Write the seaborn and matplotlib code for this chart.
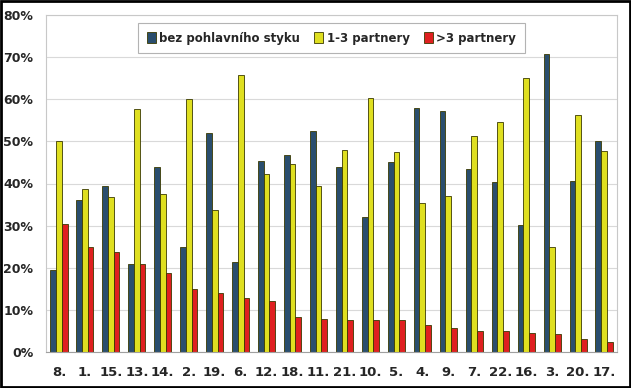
import numpy as np
import pandas as pd
import matplotlib
matplotlib.use("Agg")
import matplotlib.pyplot as plt
import seaborn as sns
from matplotlib.patches import Rectangle

# Data (values in %)
categories = ["8.", "1.", "15.", "13.", "14.", "2.", "19.", "6.", "12.", "18.", "11.",
              "21.", "10.", "5.", "4.", "9.", "7.", "22.", "16.", "3.", "20.", "17."]
bez_styku = [19.5, 36.0, 39.5, 21.0, 43.8, 25.0, 52.0, 21.3, 45.3, 46.8, 52.5,
             44.0, 32.0, 45.0, 58.0, 57.3, 43.5, 40.3, 30.2, 70.8, 40.5, 50.0]
partneri_1_3 = [50.0, 38.8, 36.7, 57.8, 37.5, 60.0, 33.8, 65.8, 42.3, 44.6, 39.4,
                48.0, 60.4, 47.5, 35.4, 37.1, 51.2, 54.6, 65.0, 24.9, 56.2, 47.6]
partneri_nad_3 = [30.5, 25.0, 23.7, 21.0, 18.8, 15.0, 14.0, 12.8, 12.0, 8.4, 7.9,
                  7.7, 7.5, 7.5, 6.3, 5.6, 5.1, 4.9, 4.6, 4.2, 3.2, 2.3]
series_names = ["bez pohlavního styku", "1-3 partnery", ">3 partnery"]
colors = ["#1F4E79", "#FFFF00", "#FF0000"]

df = pd.DataFrame({
    "kraj": categories * 3,
    "hodnota": bez_styku + partneri_1_3 + partneri_nad_3,
    "skupina": [series_names[0]] * len(categories)
               + [series_names[1]] * len(categories)
               + [series_names[2]] * len(categories),
})

sns.set_style("white")
plt.rcParams["font.family"] = ["DejaVu Sans"]

fig = plt.figure(figsize=(6.31, 3.88), dpi=100)
ax = fig.add_axes([46 / 631, 36 / 388, 571 / 631, 337 / 388])

sns.barplot(data=df, x="kraj", y="hodnota", hue="skupina", order=categories,
            hue_order=series_names, palette=colors, width=0.66, gap=0,
            edgecolor="#3A3A00", linewidth=0.6, ax=ax, legend=True)

for bar in ax.patches:
    fc = bar.get_facecolor()[:3]
    if fc == matplotlib.colors.to_rgb(colors[0]):
        bar.set_edgecolor(colors[0])
    elif fc == matplotlib.colors.to_rgb(colors[2]):
        bar.set_edgecolor("#5A0000")

ax.set_ylim(0, 80)
ax.set_yticks(np.arange(0, 81, 10))
ax.set_yticklabels([f"{v}%" for v in range(0, 81, 10)], fontweight="bold", fontsize=9)
ax.set_xticks(range(len(categories)))
ax.set_xticklabels(categories, fontweight="bold", fontsize=9.5)
ax.set_xlim(-0.5, len(categories) - 0.5)
ax.tick_params(axis="x", length=0, pad=10)
ax.tick_params(axis="y", length=0, pad=9)
ax.set_xlabel("")
ax.set_ylabel("")
ax.yaxis.grid(True, color="#D9D9D9", linewidth=0.8)
ax.set_axisbelow(True)
for side in ["top", "right", "left"]:
    ax.spines[side].set_color("#C8C8C8")
    ax.spines[side].set_linewidth(0.8)
ax.spines["bottom"].set_color("#A0A0A0")
ax.spines["bottom"].set_linewidth(0.8)

leg = ax.legend(loc="upper center", bbox_to_anchor=(0.5, 0.977), ncol=3,
                frameon=True, fancybox=False, fontsize=8.5, handlelength=0.75,
                handleheight=1.0, handletextpad=0.3, columnspacing=1.2,
                borderpad=0.75, borderaxespad=0)
leg.get_frame().set_edgecolor("#A0A0A0")
leg.get_frame().set_linewidth(0.8)
for t in leg.get_texts():
    t.set_fontweight("bold")

fig.patches.append(Rectangle((0.002, 0.003), 0.996, 0.994, transform=fig.transFigure,
                             fill=False, edgecolor="black", linewidth=2))

fig.savefig("out.png", dpi=100)
